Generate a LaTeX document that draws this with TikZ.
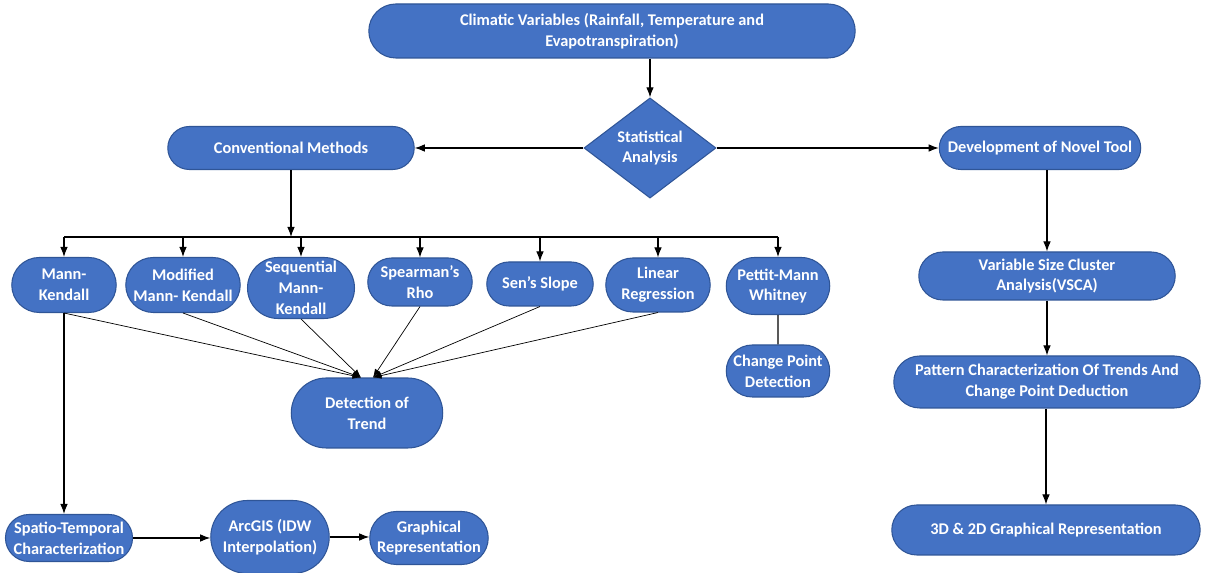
\documentclass[tikz,border=0pt]{standalone}
\usepackage{fontspec}
\setmainfont{Carlito}
\usetikzlibrary{arrows.meta,positioning,shapes.geometric,shapes.misc}
\definecolor{boxblue}{HTML}{4472C4}
\definecolor{boxedge}{HTML}{2F5597}

\begin{document}
\begin{tikzpicture}[x=0.02cm,y=-0.02cm,>=Latex,
  flow/.style={rounded rectangle,draw=boxedge,fill=boxblue,text=white,line width=0.6pt,
    font=\bfseries\fontsize{9.3}{11.8}\selectfont,align=center,inner sep=1pt},
  decision/.style={diamond,draw=boxedge,fill=boxblue,text=white,line width=0.6pt,
    font=\bfseries\fontsize{9.3}{11.8}\selectfont,align=center,inner sep=0pt,
    minimum width=2.64cm,minimum height=1.84cm},
  link/.style={->,line width=0.6pt}]
\useasboundingbox (0,0) rectangle (1205,573);
% top and analysis
\node[flow,minimum width=9.8cm,minimum height=1.08cm] (clim) at (612,31) {Climatic Variables (Rainfall, Temperature and\\Evapotranspiration)};
\node[decision] (stat) at (650,148) {Statistical\\Analysis};
\node[flow,minimum width=5cm,minimum height=0.86cm] (conv) at (291,148) {Conventional Methods};
\node[flow,minimum width=4.1cm,minimum height=0.86cm] (novel) at (1040,148) {Development of Novel Tool};
% methods
\node[flow,minimum width=2.16cm,minimum height=1.1cm] (mk) at (64,285) {Mann-\\Kendall};
\node[flow,minimum width=2.36cm,minimum height=1.1cm] (mmk) at (183,285) {Modified\\Mann- Kendall};
\node[flow,minimum width=2.14cm,minimum height=1.22cm,inner sep=0pt] (smk) at (301,288) {Sequential\\Mann-\\Kendall};
\node[flow,minimum width=2.16cm,minimum height=0.96cm] (rho) at (420,282) {Spearman's\\Rho};
\node[flow,minimum width=2.2cm,minimum height=0.88cm] (sen) at (540,284) {Sen's Slope};
\node[flow,minimum width=2.16cm,minimum height=1.08cm] (lr) at (658,285) {Linear\\Regression};
\node[flow,minimum width=2.14cm,minimum height=1.14cm] (pmw) at (778,286) {Pettit-Mann\\Whitney};
\node[flow,minimum width=2.14cm,minimum height=1.04cm] (cpd) at (778,371) {Change Point\\Detection};
\node[flow,minimum width=3.1cm,minimum height=1.4cm] (trend) at (367,413) {Detection of\\Trend};
% spatial branch
\node[flow,minimum width=2.44cm,minimum height=0.94cm] (spt) at (69,538) {Spatio-Temporal\\Characterization};
\node[flow,minimum width=2.44cm,minimum height=1.46cm] (arc) at (270,537) {ArcGIS (IDW\\Interpolation)};
\node[flow,minimum width=2.44cm,minimum height=1.06cm] (graph) at (429,538) {Graphical\\Representation};
% novel tool branch
\node[flow,minimum width=5.2cm,minimum height=0.96cm] (vsca) at (1047,276) {Variable Size Cluster\\Analysis(VSCA)};
\node[flow,minimum width=6.2cm,minimum height=1.04cm] (pat) at (1047,382) {Pattern Characterization Of Trends And\\Change Point Deduction};
\node[flow,minimum width=6.24cm,minimum height=1cm] (gr3d) at (1046,530) {3D \& 2D Graphical Representation};
\coordinate (bus) at (291,237);

\draw[link] (clim.south -| stat) -- (stat.north);
\draw[link] (stat.west) -- (conv.east);
\draw[link] (stat.east) -- (novel.west);
\draw[link] (conv.south) -- (conv.south |- bus);
\draw[line width=0.6pt] (mk.north |- bus) -- (pmw.north |- bus);
\foreach \m in {mk,mmk,smk,rho,sen,lr,pmw}
  \draw[link] (\m.north |- bus) -- (\m.north);
\foreach \m in {mk,mmk,smk}
  \draw[->,line width=0.4pt] (\m.south) -- ([xshift=-0.12cm]trend.north);
\foreach \m in {rho,sen,lr}
  \draw[->,line width=0.4pt] (\m.south) -- ([xshift=0.12cm]trend.north);
\draw[line width=0.6pt] (pmw) -- (cpd);
\draw[link] (mk.south) -- (mk.south |- spt.north);
\draw[link] (spt.east) -- (arc.west |- spt.east);
\draw[link] (arc.east) -- (graph.west |- arc.east);
\draw[link] (novel.south -| vsca.north) -- (vsca.north);
\draw[link] (vsca.south -| pat.north) -- (pat.north);
\draw[link] (pat.south -| gr3d.north) -- (gr3d.north);
\end{tikzpicture}
\end{document}
